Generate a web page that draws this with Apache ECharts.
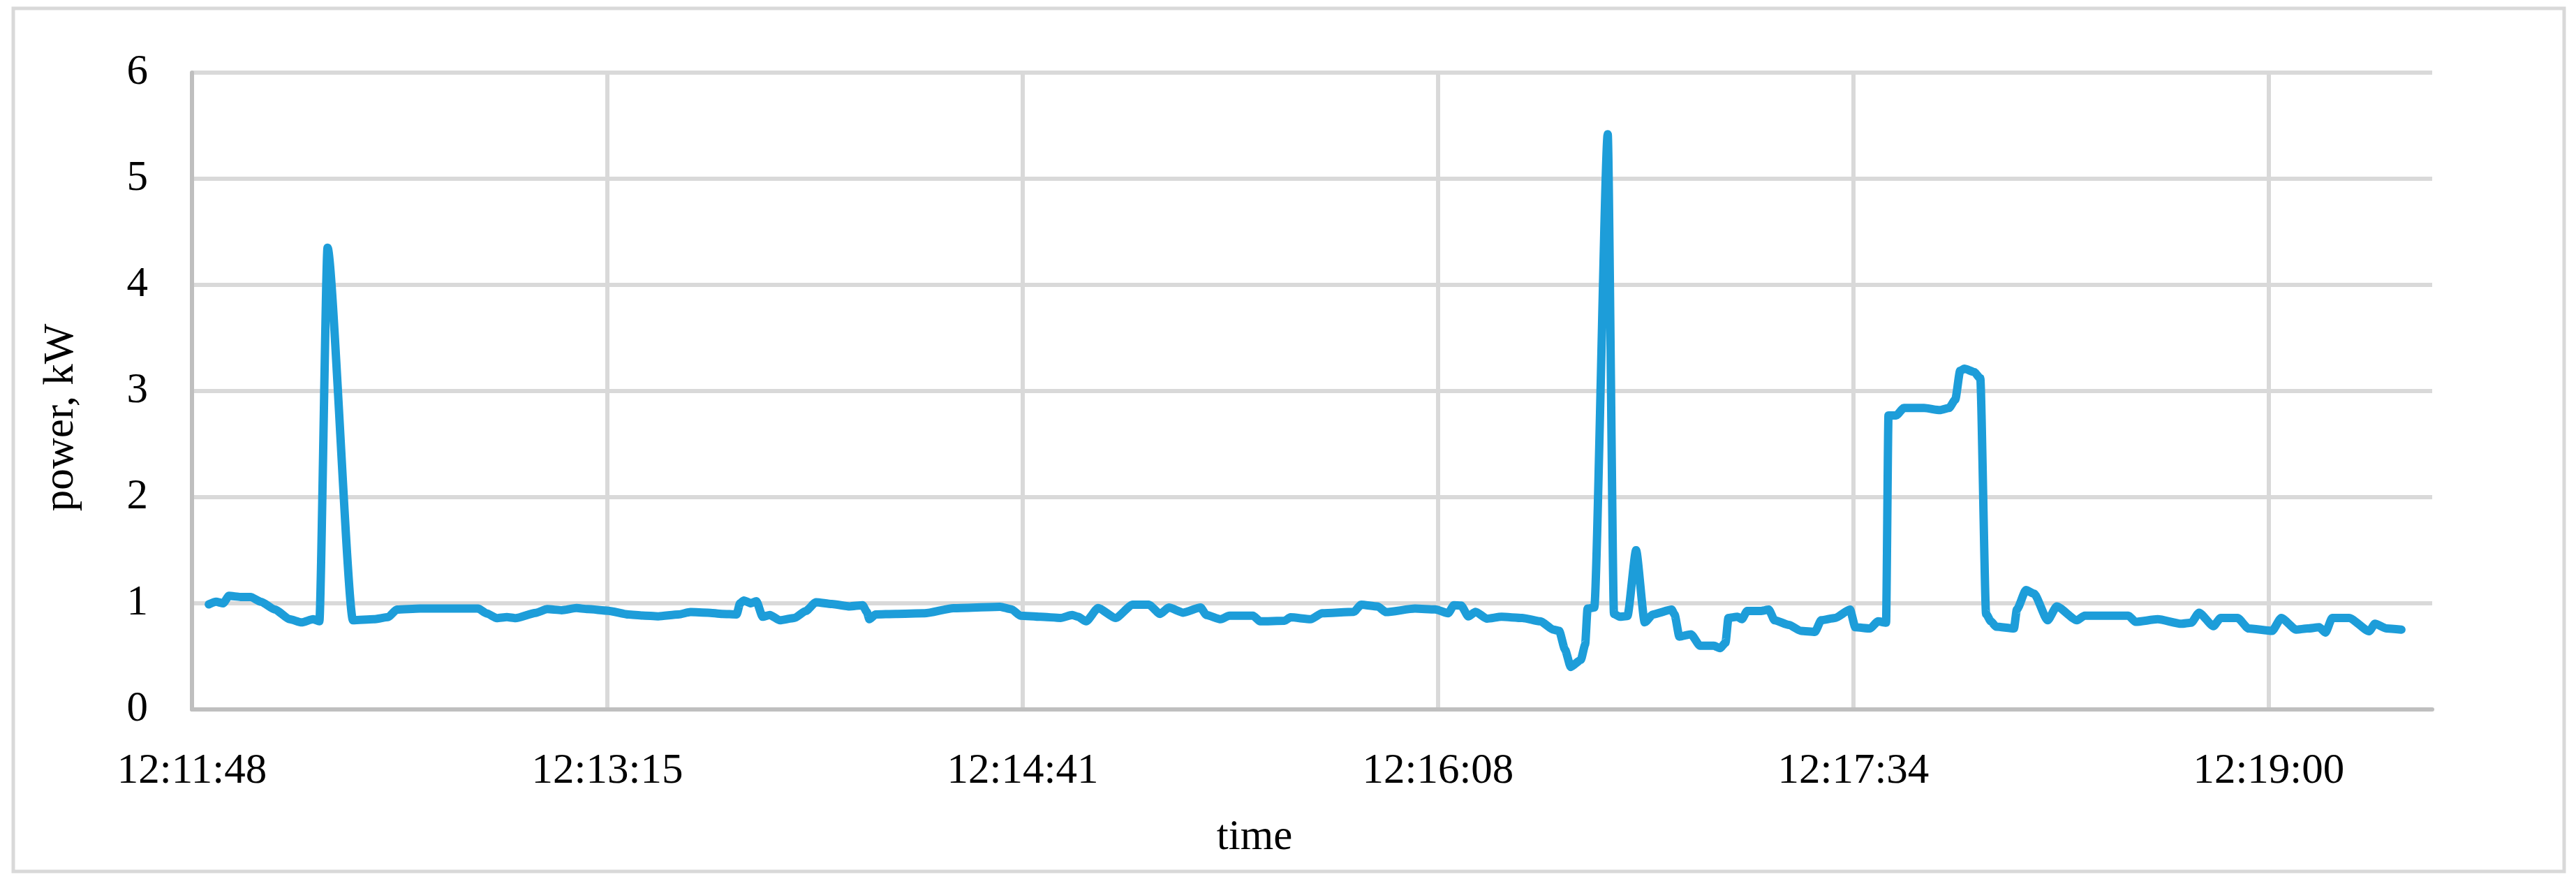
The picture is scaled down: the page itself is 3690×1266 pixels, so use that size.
<!DOCTYPE html>
<html>
<head>
<meta charset="utf-8">
<script src="https://cdn.jsdelivr.net/npm/echarts@6/dist/echarts.min.js"></script>
<style>
  html, body { margin: 0; padding: 0; background: #ffffff; }
  #chart { width: 3690px; height: 1266px; }
</style>
</head>
<body>
<div id="chart"></div>
<script>
// Seconds elapsed from the axis origin (12:11:48.48)
const times = [
  3.5, 5.0, 6.5, 7.7, 10.1, 12.2, 14.3, 17.3, 20.3, 22.8, 25.2, 26.5, 28.2, 33.5, 37.8, 40.8, 42.6, 47.4, 51.1, 59.5,
  61.3, 63.4, 65.5, 67.3, 71.5, 73.9, 76.9, 80.0, 82.3, 86.6, 90.8, 93.7,
  97.0, 101.2, 103.7, 107.3, 110.3, 113.3, 114.0, 114.8, 116.3, 117.4, 118.7, 120.2, 122.3, 125.3, 127.7, 129.8,
  133.1, 136.8, 139.5, 140.4, 140.9, 142.2, 146.4, 152.4, 158.4, 168.1, 170.5, 172.3, 176.5, 180.7, 183.1, 184.3,
  186.0, 188.5, 192.1, 195.7, 199.0, 201.4, 203.2, 206.2, 209.8, 211.0, 214.0, 215.8, 220.7, 222.2, 227.3, 228.5,
  232.7, 235.1, 241.7, 243.2, 246.6, 248.4, 254.4, 258.6, 261.3, 262.5, 264.0, 265.5, 267.0, 269.4, 272.4, 276.7,
  280.5, 283.2, 284.4, 285.6, 286.8, 288.9, 289.8, 290.3, 291.7, 294.5, 295.8, 297.0, 298.6, 300.4, 302.2, 303.9,
  307.8, 308.4, 309.4, 311.8, 313.7, 316.6, 317.9, 319.0, 319.6, 321.5, 322.4, 323.5, 326.3, 328.0, 329.2, 332.2,
  334.7, 337.6, 338.9, 341.8, 344.9, 346.0, 349.1, 350.7, 352.4, 352.9, 354.5, 356.1, 360.3, 363.6, 365.5, 366.8,
  367.8, 368.7, 370.7, 372.0, 373.2, 374.2, 375.3, 379.0, 379.6, 381.5, 383.2, 386.0, 387.9, 392.1, 393.7, 402.8,
  404.3, 408.9, 413.8, 415.9, 417.5, 420.5, 422.0, 425.5, 427.8, 432.7, 434.6, 437.7, 440.1, 442.5, 443.8, 445.2,
  448.7, 452.9, 454.1, 456.5, 459.6
];
// Power, kW
const power = [
  0.99, 1.015, 1.0, 1.07, 1.06, 1.06, 1.015, 0.94, 0.85, 0.82, 0.85, 0.83, 4.35, 0.84, 0.85, 0.87, 0.94, 0.95, 0.95, 0.95,
  0.905, 0.86, 0.87, 0.86, 0.91, 0.945, 0.935, 0.955, 0.945, 0.93, 0.895, 0.885,
  0.877, 0.895, 0.917, 0.912, 0.90, 0.895, 1.0, 1.026, 1.0, 1.02, 0.873, 0.89, 0.84, 0.862, 0.928, 1.01,
  0.993, 0.971, 0.982, 0.917, 0.85, 0.895, 0.90, 0.906, 0.954, 0.967, 0.943, 0.884, 0.873, 0.862, 0.89, 0.873,
  0.83, 0.956, 0.862, 0.987, 0.987, 0.90, 0.96, 0.912, 0.96, 0.89, 0.85, 0.884, 0.884, 0.83, 0.836, 0.868,
  0.85, 0.906, 0.92, 0.987, 0.971, 0.917, 0.95, 0.943, 0.906, 0.982, 0.978, 0.877, 0.92, 0.855, 0.873, 0.862,
  0.83, 0.752, 0.74, 0.566, 0.40, 0.467, 0.61, 0.95, 0.96, 5.42, 0.90, 0.873, 0.88, 1.5, 0.82, 0.895,
  0.94, 0.895, 0.686, 0.708, 0.60, 0.60, 0.577, 0.63, 0.862, 0.873, 0.85, 0.928, 0.928, 0.94, 0.84, 0.796,
  0.74, 0.73, 0.84, 0.862, 0.94, 0.774, 0.763, 0.83, 0.818, 2.77, 2.77, 2.84, 2.84, 2.82, 2.84, 2.92,
  3.19, 3.21, 3.18, 3.12, 0.90, 0.83, 0.78, 0.763, 0.94, 1.125, 1.09, 0.84, 0.97, 0.84, 0.884, 0.884,
  0.825, 0.85, 0.807, 0.818, 0.912, 0.785, 0.862, 0.862, 0.763, 0.74, 0.862, 0.752, 0.763, 0.774, 0.724, 0.862,
  0.862, 0.737, 0.807, 0.763, 0.752
];
// Axis settings (time axis in seconds from origin)
const axisOriginSeconds = 43908.48; // 12:11:48.48
const xTickStep = 86.4;             // 0.001 day
const xMax = 466;
const yTicks = [0, 1, 2, 3, 4, 5, 6];

function fmtTime(v) {
  let s = Math.round(axisOriginSeconds + v);
  const h = Math.floor(s / 3600); s -= h * 3600;
  const m = Math.floor(s / 60); s -= m * 60;
  const p = n => (n < 10 ? '0' : '') + n;
  return h + ':' + p(m) + ':' + p(s);
}

const FONT = '"Palatino Linotype", "Book Antiqua", Palatino, "Liberation Serif", serif';
const chart = echarts.init(document.getElementById('chart'), null, { renderer: 'canvas', width: 3690, height: 1266 });

chart.setOption({
  backgroundColor: '#ffffff',
  animation: false,
  grid: { left: 275, top: 104, width: 3209, height: 912, containLabel: false },
  xAxis: {
    type: 'value',
    min: 0,
    max: xMax,
    interval: xTickStep,
    axisLine: { show: true, lineStyle: { color: '#bfbfbf', width: 6 } },
    axisTick: { show: false },
    splitLine: { show: true, showMinLine: false, showMaxLine: false, lineStyle: { color: '#d9d9d9', width: 6 } },
    axisLabel: {
      showMaxLabel: false,
      margin: 58,
      color: '#000000',
      fontFamily: FONT,
      fontSize: 61,
      formatter: fmtTime
    }
  },
  yAxis: {
    type: 'value',
    min: yTicks[0],
    max: yTicks[yTicks.length - 1],
    interval: 1,
    axisLine: { show: true, lineStyle: { color: '#bfbfbf', width: 6 } },
    axisTick: { show: false },
    splitLine: { show: true, showMinLine: false, lineStyle: { color: '#d9d9d9', width: 6 } },
    axisLabel: { margin: 63, color: '#000000', fontFamily: FONT, fontSize: 61 }
  },
  graphic: [
    {
      type: 'rect', z: 0, silent: true,
      shape: { x: 19, y: 12, width: 3654, height: 1236 },
      style: { fill: null, stroke: '#d9d9d9', lineWidth: 5 }
    },
    {
      type: 'text', x: 1797, y: 1200, silent: true,
      style: { text: 'time', font: '61px ' + FONT, fill: '#000000', align: 'center', verticalAlign: 'middle' }
    },
    {
      type: 'text', x: 88, y: 598, rotation: Math.PI / 2, silent: true,
      style: { text: 'power, kW', font: '61px ' + FONT, fill: '#000000', align: 'center', verticalAlign: 'middle' }
    }
  ],
  series: [{
    type: 'line',
    data: times.map((t, i) => [t, power[i]]),
    showSymbol: false,
    symbol: 'none',
    smooth: 0.2,
    smoothMonotone: 'x',
    lineStyle: { color: '#1d9dd9', width: 12, cap: 'round', join: 'round' },
    z: 3
  }]
});
</script>
</body>
</html>
